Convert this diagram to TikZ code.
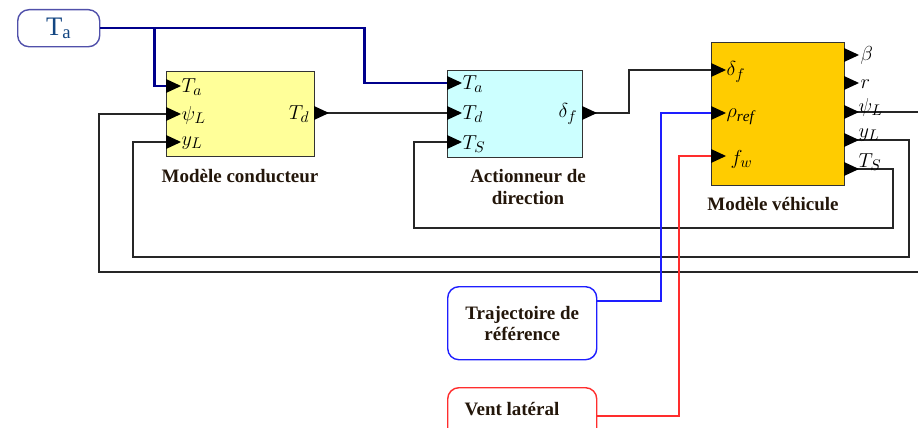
\documentclass[tikz,border=0pt]{standalone}
\usepackage{fontspec}
\setmainfont{Liberation Serif}
\usetikzlibrary{calc,positioning}
\definecolor{condfill}{RGB}{255,255,153}
\definecolor{actfill}{RGB}{204,255,255}
\definecolor{vehfill}{RGB}{255,204,0}
\definecolor{tanavy}{RGB}{0,0,140}
\definecolor{taborder}{RGB}{80,80,170}
\definecolor{tatext}{RGB}{20,70,130}
\definecolor{refblue}{RGB}{30,30,255}
\definecolor{ventred}{RGB}{255,45,45}
\definecolor{labelbrown}{RGB}{35,22,10}

\begin{document}
\begin{tikzpicture}[x=0.025cm,y=-0.025cm,
    block/.style={draw=black!80,line width=1pt,anchor=north west,inner sep=0pt},
    srcbox/.style={draw,rounded corners=8pt,line width=1pt,anchor=north west,inner sep=0pt},
    wire/.style={draw=black!85,line width=0.9pt},
    tawire/.style={draw=tanavy,line width=1.6pt},
    sig/.style={font=\fontsize{15.5}{18}\selectfont,inner sep=1pt},
    caption/.style={font=\fontsize{13.5}{15}\selectfont\bfseries,text=labelbrown,align=center},
    port/.pic={\fill (0,-7) -- (15,0) -- (0,7) -- cycle;}]
    \useasboundingbox (0,0) rectangle (918,427);
    \clip (0,0) rectangle (918,427);

    % blocks
    \node[block,fill=condfill,minimum width=3.7cm,minimum height=2.125cm] (cond) at (166,71) {};
    \node[block,fill=actfill,minimum width=3.375cm,minimum height=2.175cm] (act) at (447,70) {};
    \node[block,fill=vehfill,minimum width=3.325cm,minimum height=3.575cm] (veh) at (711,42) {};

    % sources
    \node[srcbox,draw=taborder,minimum width=2.05cm,minimum height=0.925cm] (ta) at (17,9) {};
    \node[text=tatext,font=\fontsize{19}{22}\selectfont] at (ta.center) {T$_{\mathrm{a}}$};
    \node[srcbox,draw=refblue,minimum width=3.725cm,minimum height=1.825cm] (traj) at (447,286) {};
    \node[srcbox,draw=ventred,minimum width=3.725cm,minimum height=1.825cm] (vent) at (447,387) {};

    % ports
    \coordinate (cond-ta) at (166,86);
    \coordinate (cond-psi) at (166,114);
    \coordinate (cond-y) at (166,142);
    \coordinate (cond-td) at (314,113);
    \coordinate (act-ta) at (447,83);
    \coordinate (act-td) at (447,113);
    \coordinate (act-ts) at (447,142);
    \coordinate (act-df) at (582,113);
    \coordinate (veh-df) at (711,70);
    \coordinate (veh-rho) at (711,113);
    \coordinate (veh-fw) at (711,156);
    \coordinate (veh-beta) at (844,55);
    \coordinate (veh-r) at (844,83);
    \coordinate (veh-psi) at (844,112);
    \coordinate (veh-y) at (844,140);
    \coordinate (veh-ts) at (844,169);
    \coordinate (traj-out) at (596,301);
    \coordinate (vent-out) at (596,416);
    \coordinate (edgeA) at (918,112);
    \coordinate (edgeB) at (918,272);

    % connections
    \draw[tawire] (ta.east) -- ++(264,0) |- (act-ta);
    \draw[tawire] (ta.east) ++(54,0) |- (cond-ta);
    \draw[wire] (cond-td) -- (act-td);
    \draw[wire] (act-df) -- ++(47,0) |- (veh-df);
    \draw[wire] (veh-psi) -- (edgeA);
    \draw[wire] (edgeB) -| (99,114) -- (cond-psi);
    \draw[wire] (veh-y) -- (909,140) |- (133,257) |- (cond-y);
    \draw[wire] (veh-ts) -- (893,169) |- (414,228) |- (act-ts);
    \draw[draw=refblue,line width=0.9pt] (traj-out) -- (661,301) |- (veh-rho);
    \draw[draw=ventred,line width=0.9pt] (vent-out) -- (679,416) |- (veh-fw);

    \foreach \p in {cond-ta,cond-psi,cond-y,cond-td,act-ta,act-td,act-ts,act-df,
                    veh-df,veh-rho,veh-fw,veh-beta,veh-r,veh-psi,veh-y,veh-ts}
        \pic at (\p) {port};

    % signal names
    \node[sig,anchor=west] at (180,87) {$T_a$};
    \node[sig,anchor=west] at (180,115) {$\psi_L$};
    \node[sig,anchor=west] at (180,143) {$y_L$};
    \node[sig,anchor=east] at (311,114) {$T_d$};
    \node[sig,anchor=west] at (461,84) {$T_a$};
    \node[sig,anchor=west] at (461,114) {$T_d$};
    \node[sig,anchor=west] at (461,144) {$T_S$};
    \node[sig,anchor=east] at (579,114) {$\delta_f$};
    \node[sig,anchor=west] at (725,72) {$\delta_f$};
    \node[sig,anchor=west] at (725,117) {$\rho_{\mathit{ref}}$};
    \node[sig,anchor=west] at (729,159) {$f_w$};
    \node[sig,anchor=west] at (859,55) {$\beta$};
    \node[sig,anchor=west] at (859,84) {$r$};
    \node[sig,anchor=west] at (857,107) {$\psi_L$};
    \node[sig,anchor=west] at (857,135) {$y_L$};
    \node[sig,anchor=west] at (857,162) {$T_S$};

    % captions
    \node[caption] at (240,176) {Modèle conducteur};
    \node[caption] at (528,187) {Actionneur de\\direction};
    \node[caption] at (773,204) {Modèle véhicule};
    \node[caption] at (traj.center) {Trajectoire de\\référence};
    \node[caption] at (512,409) {Vent latéral};
\end{tikzpicture}
\end{document}
